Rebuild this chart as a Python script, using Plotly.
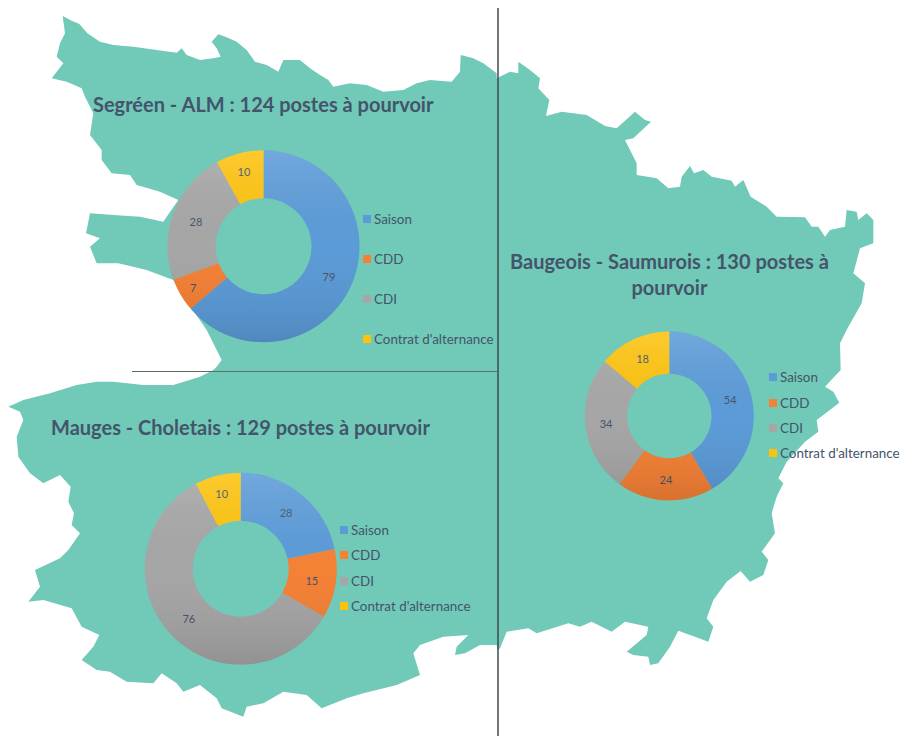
import base64
import plotly.graph_objects as go

W, H = 900, 736

# ---------- data ----------
categories = ["Saison", "CDD", "CDI", "Contrat d'alternance"]
segreen_values = [79, 7, 28, 10]
baugeois_values = [54, 24, 34, 18]
mauges_values = [28, 15, 76, 10]
segreen_title = "Segréen - ALM : 124 postes à pourvoir"
baugeois_title = "Baugeois - Saumurois : 130 postes à<br>pourvoir"
mauges_title = "Mauges - Choletais : 129 postes à pourvoir"

# ---------- style ----------
COLORS = ["#5B9BD8", "#F58135", "#A6A6A6", "#FDC20E"]
TEXT = "#44546A"
MAP = "#71C9B8"
FONT = "Lato"

# outline of the territory, traced in 3x crops
crop_a = [(188,48),(215,62),(238,72),(262,100),(300,125),(340,135),(400,140),(470,150),(530,158),(545,145),(560,165),
          (600,180),(640,175),(662,170),(650,145),(635,125),(655,103),(680,112),(710,125),(740,150),(765,185),(800,195),
          (835,215),(850,180),(900,180),(930,205),(960,225),(985,240),(1000,260),(1050,250),(1100,255),(1150,275),
          (1210,270),(1250,250),(1290,240),(1355,245),(1380,215),(1382,165),(1420,175),(1450,190),(1490,220)]
crop_c = [(20,235),(60,215),(85,220),(85,185),(120,210),(150,235),(145,265),(178,300),(168,348),(215,335),(290,345),
          (345,378),(380,385),(435,335),(465,360),(483,365),(430,415),(405,420),(440,490),(440,525),(500,535),(535,565),
          (570,560),(575,530),(600,498),(612,520),(640,510),(665,530),(725,542),(735,560),(760,540),(782,590),(830,620),
          (860,650),(945,652),(965,680),(985,680),(1005,710),(1020,690),(1065,680),(1070,630),(1100,635),(1105,660),
          (1130,640),(1150,660),(1150,730),(1110,745),(1090,820),(1125,850),(1115,910),(1075,980),(1050,1030),(1052,1110)]
crop_d = [(1005,50),(1030,65),(1048,98),(980,150),(985,185),(945,215),(890,275),(865,325),(880,340),(860,380),(845,430),
          (855,490),(815,545),(835,570),(820,615),(780,635),(752,603),(710,635),(670,690),(650,745),(670,770),(655,815),
          (600,795),(565,782),(540,830),(505,880),(480,885),(475,860),(430,855),(410,845),(470,795),(475,770),(405,755),
          (365,785),(305,755),(270,770),(235,760),(140,790),(115,775),(50,785),(30,835),(22,840)]
crop_b = [(1490,825),(1440,825),(1395,850),(1365,855),(1370,830),(1405,795),(1330,800),(1260,825),(1240,850),(1260,915),
          (1190,945),(1090,970),(1040,985),(965,1015),(920,975),(850,965),(790,1000),(740,1010),(730,1040),(665,1015),(650,985),
          (600,945),(550,965),(530,940),(485,910),(460,940),(380,935),(330,905),(290,900),(245,870),(280,830),(298,795),(245,770),
          (215,715),(130,690),(85,695),(120,650),(105,600),(180,565),(205,540),(240,490),(215,465),(222,430),(205,395),(212,350),
          (180,315),(130,340),(90,310),(55,260),(50,200),(70,150),(60,125),(25,110),(70,90),(150,70),(230,45),(290,35),(340,35),
          (430,45),(520,45),(600,20),(640,0)]
crop_a2 = [(650,1100),(665,1080),(620,990),(575,925),(520,840),(440,810),(355,790),(290,790),(270,740),(300,715),(258,700),
           (270,640),(340,645),(420,650),(490,665),(500,650),(535,600),(480,575),(410,555),(390,525),(335,520),(305,480),
           (305,450),(270,405),(280,340),(255,290),(245,265),(200,245),(155,235),(190,190),(170,170),(180,130),(195,100)]


def px_x(x):
    return x / W


def px_y(y):
    return 1 - y / H


def shade_ring():
    """Soft top-to-bottom shading for a ring with a 0.5 hole (purely cosmetic)."""
    svg = ("<svg xmlns='http://www.w3.org/2000/svg' viewBox='0 0 200 200' width='200' height='200'>"
           "<defs><linearGradient id='g' x1='0' y1='0' x2='0' y2='1'>"
           "<stop offset='0' stop-color='#fff' stop-opacity='0.14'/>"
           "<stop offset='0.5' stop-color='#808080' stop-opacity='0'/>"
           "<stop offset='1' stop-color='#000' stop-opacity='0.12'/></linearGradient></defs>"
           "<path fill='url(#g)' fill-rule='evenodd' d='M100 0a100 100 0 1 0 0.01 0zM100 50a50 50 0 1 0 0.01 0z'/></svg>")
    return "data:image/svg+xml;base64," + base64.b64encode(svg.encode()).decode()


outline = (
    [(x / 3, y / 3) for x, y in crop_a]
    + [(490 + x / 3, y / 3) for x, y in crop_c]
    + [(490 + x / 3, 370 + y / 3) for x, y in crop_d]
    + [(x / 3, 370 + y / 3) for x, y in crop_b]
    + [(x / 3, y / 3) for x, y in crop_a2]
)
map_path = "M " + " L ".join(f"{px_x(x):.5f},{px_y(y):.5f}" for x, y in outline) + " Z"

fig = go.Figure()
shapes = [dict(type="path", path=map_path, xref="paper", yref="paper", layer="below",
               fillcolor=MAP, line=dict(width=0))]
annotations = []
images = []

# (values, centre x, centre y, radius, title, title x, title y, swatch x, legend y's)
panels = [
    (segreen_values, 263.5, 246.3, 96, segreen_title, 263.5, 104, 363, [219, 259, 299, 339]),
    (baugeois_values, 669.3, 416, 84.5, baugeois_title, 669, 274, 769, [377, 403, 428, 453]),
    (mauges_values, 240.7, 568.7, 96, mauges_title, 240.5, 427, 340, [530, 555, 581, 606]),
]

for values, cx, cy, r, title, tx, ty, sx, leg_y in panels:
    fig.add_trace(go.Pie(
        labels=categories, values=values, sort=False, direction="clockwise", rotation=0,
        hole=0.5, textinfo="value", textposition="inside", insidetextorientation="horizontal",
        textfont=dict(family=FONT, size=11, color=TEXT),
        marker=dict(colors=COLORS, line=dict(width=0)),
        domain=dict(x=[px_x(cx - r), px_x(cx + r)], y=[px_y(cy + r), px_y(cy - r)]),
        showlegend=False,
    ))
    images.append(dict(source=shade_ring(), xref="paper", yref="paper", x=px_x(cx - r), y=px_y(cy - r),
                       sizex=2 * r / W, sizey=2 * r / H, sizing="stretch", xanchor="left", yanchor="top",
                       layer="above"))
    annotations.append(dict(text=f"<b>{title}</b>", x=px_x(tx), y=px_y(ty), xref="paper", yref="paper",
                            xanchor="center", yanchor="middle", align="center", showarrow=False,
                            font=dict(family=FONT, size=20, color=TEXT)))
    for name, col, ly in zip(categories, COLORS, leg_y):
        shapes.append(dict(type="rect", xref="paper", yref="paper", layer="above",
                           x0=px_x(sx), x1=px_x(sx + 8), y0=px_y(ly + 4), y1=px_y(ly - 4),
                           fillcolor=col, line=dict(width=0)))
        annotations.append(dict(text=name, x=px_x(sx + 8.5), y=px_y(ly), xref="paper", yref="paper",
                                xanchor="left", yanchor="middle", showarrow=False,
                                font=dict(family=FONT, size=13.4, color=TEXT)))

# separators
shapes.append(dict(type="line", xref="paper", yref="paper", x0=px_x(498), x1=px_x(498), y0=px_y(8), y1=px_y(736),
                   line=dict(color="#3F4A4A", width=1.5), layer="above"))
shapes.append(dict(type="line", xref="paper", yref="paper", x0=px_x(132), x1=px_x(498), y0=px_y(371.5), y1=px_y(371.5),
                   line=dict(color="#5F6F6C", width=1.2), layer="above"))

fig.update_layout(width=W, height=H, margin=dict(l=0, r=0, t=0, b=0), autosize=False,
                  paper_bgcolor="white", plot_bgcolor="white", shapes=shapes, annotations=annotations,
                  images=images, showlegend=False)

fig.write_html("out.html", config=dict(displayModeBar=False),
               post_script="document.body.style.margin='0';")
